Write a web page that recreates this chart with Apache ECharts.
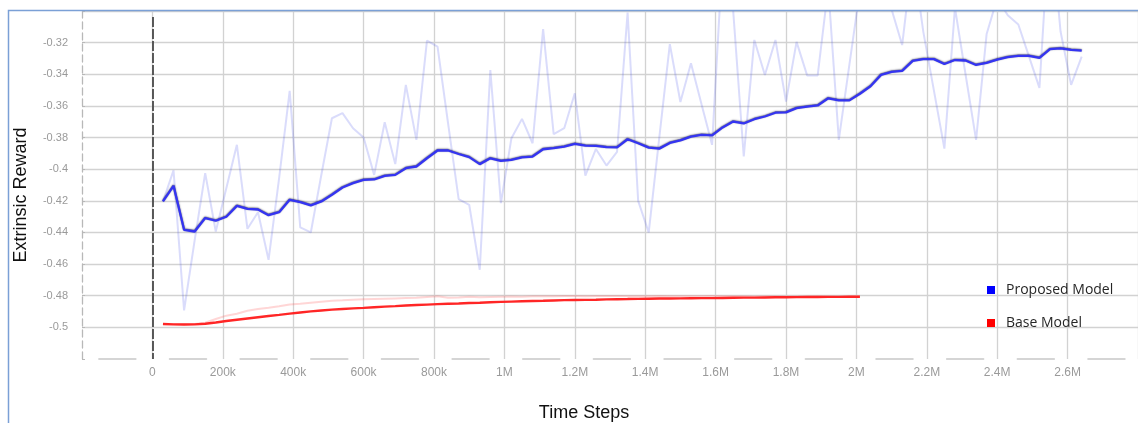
<!DOCTYPE html>
<html>
<head>
<meta charset="utf-8">
<script src="https://cdn.jsdelivr.net/npm/echarts@6/dist/echarts.min.js"></script>
<style>
  html, body { margin: 0; padding: 0; background: #ffffff; }
  #chart { width: 1138px; height: 423px; }
</style>
</head>
<body>
<div id="chart"></div>
<script>
// Training steps at which the reward was logged
const steps = [
  30000, 60000, 90000, 120000, 150000, 180000, 210000, 240000, 270000, 300000,
  330000, 360000, 390000, 420000, 450000, 480000, 510000, 540000, 570000, 600000,
  630000, 660000, 690000, 720000, 750000, 780000, 810000, 840000, 870000, 900000,
  930000, 960000, 990000, 1020000, 1050000, 1080000, 1110000, 1140000, 1170000, 1200000,
  1230000, 1260000, 1290000, 1320000, 1350000, 1380000, 1410000, 1440000, 1470000, 1500000,
  1530000, 1560000, 1590000, 1620000, 1650000, 1680000, 1710000, 1740000, 1770000, 1800000,
  1830000, 1860000, 1890000, 1920000, 1950000, 1980000, 2010000, 2040000, 2070000, 2100000,
  2130000, 2160000, 2190000, 2220000, 2250000, 2280000, 2310000, 2340000, 2370000, 2400000,
  2430000, 2460000, 2490000, 2520000, 2550000, 2580000, 2610000, 2640000
];

// Proposed model: raw episode reward
const proposedRaw = [
  -0.4204, -0.4008, -0.4893, -0.4450, -0.4025, -0.4394, -0.4120, -0.3846, -0.4377, -0.4272,
  -0.4573, -0.4057, -0.3505, -0.4368, -0.4400, -0.4035, -0.3678, -0.3646, -0.3741, -0.3800,
  -0.4036, -0.3703, -0.3968, -0.3467, -0.3815, -0.3187, -0.3225, -0.3710, -0.4190, -0.4225,
  -0.4636, -0.3373, -0.4215, -0.3804, -0.3682, -0.3836, -0.3114, -0.3779, -0.3741, -0.3520,
  -0.4040, -0.3872, -0.3977, -0.3890, -0.3010, -0.4200, -0.4400, -0.3800, -0.3210, -0.3575,
  -0.3330, -0.3590, -0.3846, -0.2650, -0.3000, -0.3920, -0.3183, -0.3405, -0.3183, -0.3573,
  -0.3195, -0.3407, -0.3407, -0.2850, -0.3815, -0.3340, -0.2870, -0.2800, -0.2900, -0.2990,
  -0.3215, -0.2650, -0.3130, -0.3500, -0.3870, -0.2980, -0.3400, -0.3815, -0.3145, -0.2920,
  -0.3027, -0.3085, -0.3285, -0.3486, -0.2400, -0.3130, -0.3467, -0.3288
];

// Proposed model: smoothed reward
const proposedSmooth = [
  -0.4204, -0.4105, -0.4383, -0.4394, -0.4309, -0.4326, -0.4301, -0.4232, -0.4251, -0.4255,
  -0.4291, -0.4272, -0.4194, -0.4208, -0.4229, -0.4204, -0.4162, -0.4116, -0.4088, -0.4067,
  -0.4065, -0.4042, -0.4036, -0.3994, -0.3983, -0.3931, -0.3882, -0.3882, -0.3904, -0.3924,
  -0.3968, -0.3931, -0.3947, -0.3941, -0.3926, -0.3920, -0.3874, -0.3867, -0.3857, -0.3840,
  -0.3851, -0.3853, -0.3861, -0.3862, -0.3811, -0.3836, -0.3864, -0.3870, -0.3834, -0.3818,
  -0.3794, -0.3783, -0.3786, -0.3736, -0.3699, -0.3711, -0.3684, -0.3667, -0.3643, -0.3641,
  -0.3614, -0.3604, -0.3597, -0.3552, -0.3565, -0.3565, -0.3523, -0.3476, -0.3404, -0.3385,
  -0.3378, -0.3315, -0.3304, -0.3304, -0.3335, -0.3310, -0.3313, -0.3341, -0.3328, -0.3308,
  -0.3292, -0.3284, -0.3284, -0.3297, -0.3241, -0.3236, -0.3246, -0.3250
];

// Base model: raw episode reward
const baseRaw = [
  -0.4979, -0.4981, -0.4981, -0.4979, -0.4971, -0.4947, -0.4926, -0.4914, -0.4895, -0.4884,
  -0.4876, -0.4867, -0.4855, -0.4851, -0.4844, -0.4838, -0.4832, -0.4829, -0.4825, -0.4823,
  -0.4821, -0.4819, -0.4817, -0.4815, -0.4813, -0.4808, -0.4804, -0.4813, -0.4811, -0.4806,
  -0.4810, -0.4808, -0.4806, -0.4805, -0.4806, -0.4804, -0.4803, -0.4804, -0.4802, -0.4801,
  -0.4803, -0.4802, -0.4801, -0.4802, -0.4803, -0.4804, -0.4803, -0.4802, -0.4804, -0.4803,
  -0.4804, -0.4803, -0.4802, -0.4804, -0.4803, -0.4804, -0.4805, -0.4803, -0.4804, -0.4805,
  -0.4804, -0.4805, -0.4804, -0.4805, -0.4806, -0.4805, -0.4805
];

// Base model: smoothed reward
const baseSmooth = [
  -0.4979, -0.4981, -0.4982, -0.4981, -0.4977, -0.4969, -0.4960, -0.4952, -0.4944, -0.4936,
  -0.4928, -0.4921, -0.4913, -0.4906, -0.4899, -0.4893, -0.4888, -0.4884, -0.4880, -0.4877,
  -0.4873, -0.4869, -0.4866, -0.4862, -0.4859, -0.4856, -0.4853, -0.4851, -0.4849, -0.4846,
  -0.4844, -0.4841, -0.4839, -0.4837, -0.4835, -0.4833, -0.4832, -0.4830, -0.4828, -0.4827,
  -0.4826, -0.4825, -0.4823, -0.4822, -0.4821, -0.4820, -0.4819, -0.4818, -0.4818, -0.4817,
  -0.4816, -0.4815, -0.4815, -0.4814, -0.4813, -0.4812, -0.4812, -0.4811, -0.4810, -0.4810,
  -0.4809, -0.4808, -0.4808, -0.4807, -0.4807, -0.4806, -0.4806
];

const seriesNames = ['Proposed Model', 'Base Model'];
const seriesColors = ['#0000ff', '#ff0000'];

function pairs(xs, ys) {
  return ys.map((y, i) => [xs[i], y]);
}

function formatSteps(v) {
  if (v < 0 || v > 2700000) return '';
  if (v === 0) return '0';
  if (v < 1000000) return Math.round(v / 1000) + 'k';
  return (+(v / 1000000).toFixed(1)) + 'M';
}

function formatReward(v) {
  if (v > -0.305 || v < -0.515) return '';
  return String(+v.toFixed(2));
}

const chart = echarts.init(document.getElementById('chart'), null, { renderer: 'canvas' });

chart.setOption({
  animation: false,
  backgroundColor: '#ffffff',
  grid: { left: 82, right: -4, top: 11, bottom: 64, containLabel: false },
  xAxis: {
    type: 'value',
    min: -200000,
    max: 2800000,
    interval: 200000,
    axisLine: {
      show: true,
      onZero: false,
      lineStyle: { color: '#c8c8c8', width: 1.5, type: [37, 33.65], dashOffset: 53.8 }
    },
    axisTick: { show: false },
    axisLabel: {
      formatter: formatSteps,
      color: '#9a9a9a',
      fontFamily: 'Liberation Sans',
      fontSize: 12,
      margin: 8,
      showMinLabel: false,
      showMaxLabel: false
    },
    splitLine: { show: true, showMinLine: false, lineStyle: { color: '#d2d2d2', width: 1.3 } }
  },
  yAxis: {
    type: 'value',
    min: -0.52,
    max: -0.30,
    interval: 0.02,
    axisLine: {
      show: true,
      onZero: false,
      lineStyle: { color: '#b8b8b8', width: 1.3, type: [7, 4] }
    },
    axisTick: { show: true, length: 3, inside: true, lineStyle: { color: '#b8b8b8' } },
    axisLabel: {
      formatter: formatReward,
      color: '#9a9a9a',
      fontFamily: 'Liberation Sans',
      fontSize: 11,
      margin: 14
    },
    splitLine: { show: true, showMinLine: false, lineStyle: { color: '#d2d2d2', width: 1.3 } }
  },
  legend: {
    orient: 'vertical',
    left: 982,
    top: 278,
    itemWidth: 8,
    itemHeight: 8,
    itemGap: 19,
    icon: 'rect',
    selectedMode: false,
    textStyle: { color: '#262626', fontFamily: 'Open Sans', fontSize: 14, padding: [0, 0, 0, 6] },
    data: [
      { name: seriesNames[0], itemStyle: { color: seriesColors[0] } },
      { name: seriesNames[1], itemStyle: { color: seriesColors[1] } }
    ]
  },
  series: [
    {
      name: 'Proposed Model (raw)',
      type: 'line',
      data: pairs(steps, proposedRaw),
      showSymbol: false,
      silent: true,
      lineStyle: { color: 'rgba(70, 80, 235, 0.2)', width: 2 },
      // dashed marker at step zero
      markLine: {
        silent: true,
        symbol: ['none', 'none'],
        label: { show: false },
        lineStyle: { color: '#4a4a4a', width: 1.8, type: [10, 2] },
        data: [[{ coord: [0, -0.3038] }, { coord: [0, -0.52] }]]
      },
      z: 2
    },
    {
      name: 'Base Model (raw)',
      type: 'line',
      data: pairs(steps, baseRaw),
      showSymbol: false,
      silent: true,
      lineStyle: { color: 'rgba(255, 70, 70, 0.22)', width: 2 },
      z: 3
    },
    {
      name: seriesNames[1],
      type: 'line',
      data: pairs(steps, baseSmooth),
      showSymbol: false,
      color: seriesColors[1],
      lineStyle: { color: '#ff2626', width: 2.4 },
      z: 4
    },
    {
      name: seriesNames[0],
      type: 'line',
      data: pairs(steps, proposedSmooth),
      showSymbol: false,
      color: seriesColors[0],
      lineStyle: {
        color: '#3434f2',
        width: 2.3,
        shadowColor: 'rgba(0, 0, 40, 0.65)',
        shadowBlur: 1.5,
        shadowOffsetY: -0.5
      },
      z: 5
    }
  ],
  graphic: [
    {
      type: 'polyline',
      silent: true,
      z: 100,
      shape: { points: [[8.5, 423], [8.5, 10.5], [1138, 10.5]] },
      style: { stroke: '#7ba0d6', lineWidth: 1.5, fill: null }
    },
    {
      type: 'text',
      silent: true,
      x: 21,
      y: 195,
      rotation: Math.PI / 2,
      style: {
        text: 'Extrinsic Reward',
        fill: '#111111',
        font: '18px "Liberation Sans", Arial, sans-serif',
        align: 'center',
        verticalAlign: 'middle'
      }
    },
    {
      type: 'text',
      silent: true,
      x: 584,
      y: 413,
      style: {
        text: 'Time Steps',
        fill: '#111111',
        font: '18px "Liberation Sans", Arial, sans-serif',
        align: 'center',
        verticalAlign: 'middle'
      }
    }
  ]
});
</script>
</body>
</html>
